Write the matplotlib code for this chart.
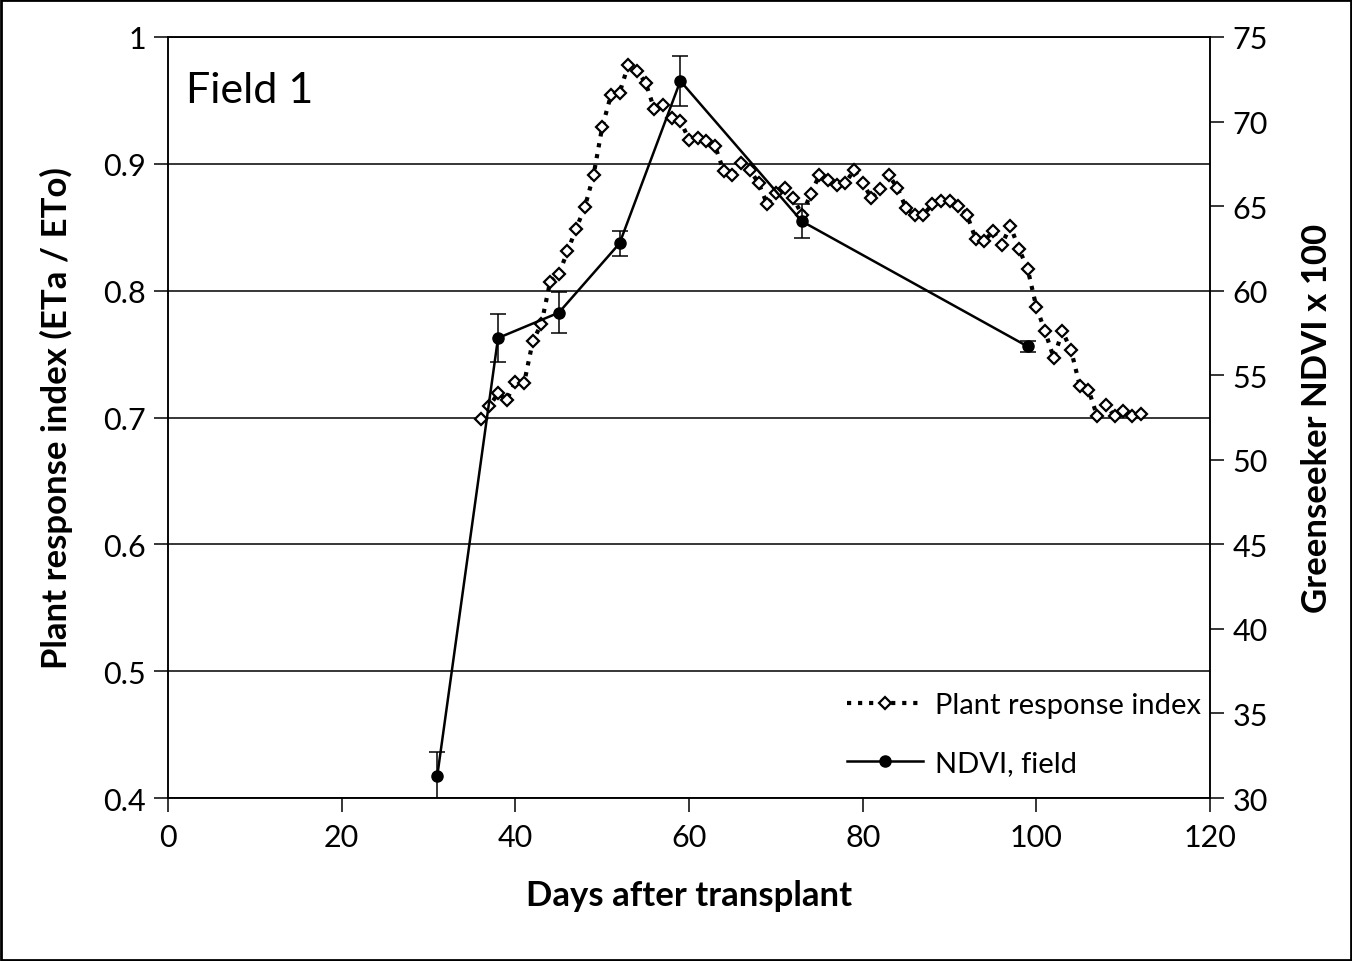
import matplotlib.pyplot as plt
from matplotlib.patches import Rectangle

plt.rcParams['font.family'] = ['Lato', 'DejaVu Sans']

# Plant response index (ETa / ETo), daily
pri_days = list(range(36, 113))
pri_vals = [0.699, 0.709, 0.719, 0.714, 0.728, 0.727, 0.760, 0.774, 0.807, 0.813,
            0.831, 0.849, 0.866, 0.891, 0.929, 0.954, 0.956, 0.978, 0.973, 0.964,
            0.943, 0.946, 0.936, 0.934, 0.919, 0.920, 0.918, 0.914, 0.894, 0.891,
            0.901, 0.895, 0.885, 0.868, 0.877, 0.881, 0.873, 0.860, 0.876, 0.891,
            0.887, 0.883, 0.885, 0.895, 0.885, 0.873, 0.880, 0.891, 0.881, 0.865,
            0.860, 0.860, 0.868, 0.871, 0.871, 0.867, 0.860, 0.841, 0.839, 0.847,
            0.836, 0.851, 0.833, 0.817, 0.787, 0.768, 0.747, 0.768, 0.753, 0.725,
            0.722, 0.701, 0.710, 0.701, 0.705, 0.701, 0.703]

# Greenseeker NDVI x 100, field
ndvi_days = [31, 38, 45, 52, 59, 73, 99]
ndvi_vals = [31.3, 57.2, 58.7, 62.8, 72.4, 64.1, 56.7]
ndvi_err = [1.4, 1.4, 1.2, 0.75, 1.5, 1.0, 0.3]

fig = plt.figure(figsize=(13.52, 9.62), dpi=100)
ax = fig.add_axes([0.1243, 0.1694, 0.7707, 0.7911])
ax2 = ax.twinx()

ax.set_xlim(0, 120)
ax.set_ylim(0.4, 1.0)
ax2.set_ylim(30, 75)
ax.set_xticks(range(0, 121, 20))
ax.set_yticks([0.4, 0.5, 0.6, 0.7, 0.8, 0.9, 1.0])
ax.set_yticklabels(['0.4', '0.5', '0.6', '0.7', '0.8', '0.9', '1'])
ax2.set_yticks(range(30, 76, 5))

ax.yaxis.grid(True, color='black', linewidth=1.1)
ax.set_axisbelow(True)

for a in (ax, ax2):
    for s in a.spines.values():
        s.set_color('black')
        s.set_linewidth(1.1)
    a.tick_params(direction='out', length=10, width=1.1, labelsize=22)
ax.tick_params(axis='x', pad=8)
ax.tick_params(axis='y', pad=6)
ax2.tick_params(axis='y', pad=6)

pri_line, = ax.plot(pri_days, pri_vals, linestyle=':', color='black', linewidth=3,
                    marker='D', markersize=6.5, markerfacecolor='white',
                    markeredgecolor='black', markeredgewidth=1.6,
                    label='Plant response index')

ax2.errorbar(ndvi_days, ndvi_vals, yerr=ndvi_err, fmt='none', ecolor='black',
             elinewidth=1.1, capsize=6, capthick=1.1)
ndvi_line, = ax2.plot(ndvi_days, ndvi_vals, color='black', linewidth=1.8,
                      marker='o', markersize=8, label='NDVI, field')

ax.set_xlabel('Days after transplant', fontsize=25, fontweight='bold', labelpad=20)
ax.set_ylabel('Plant response index (ETa / ETo)', fontsize=25, fontweight='bold', labelpad=22)
ax2.set_ylabel('Greenseeker NDVI x 100', fontsize=25, fontweight='bold', labelpad=24)

ax.text(0.017, 0.955, 'Field 1', transform=ax.transAxes, fontsize=31, va='top', ha='left')

ax2.legend(handles=[pri_line, ndvi_line], loc='lower right', bbox_to_anchor=(1.012, 0.0),
           frameon=False, fontsize=21, labelspacing=1.1, handlelength=2.6,
           handletextpad=0.4, borderaxespad=0.35)

fig.patches.append(Rectangle((0.001, 0.001), 0.998, 0.998, transform=fig.transFigure,
                             fill=False, edgecolor='black', linewidth=2))

fig.savefig('out.png', dpi=100)
